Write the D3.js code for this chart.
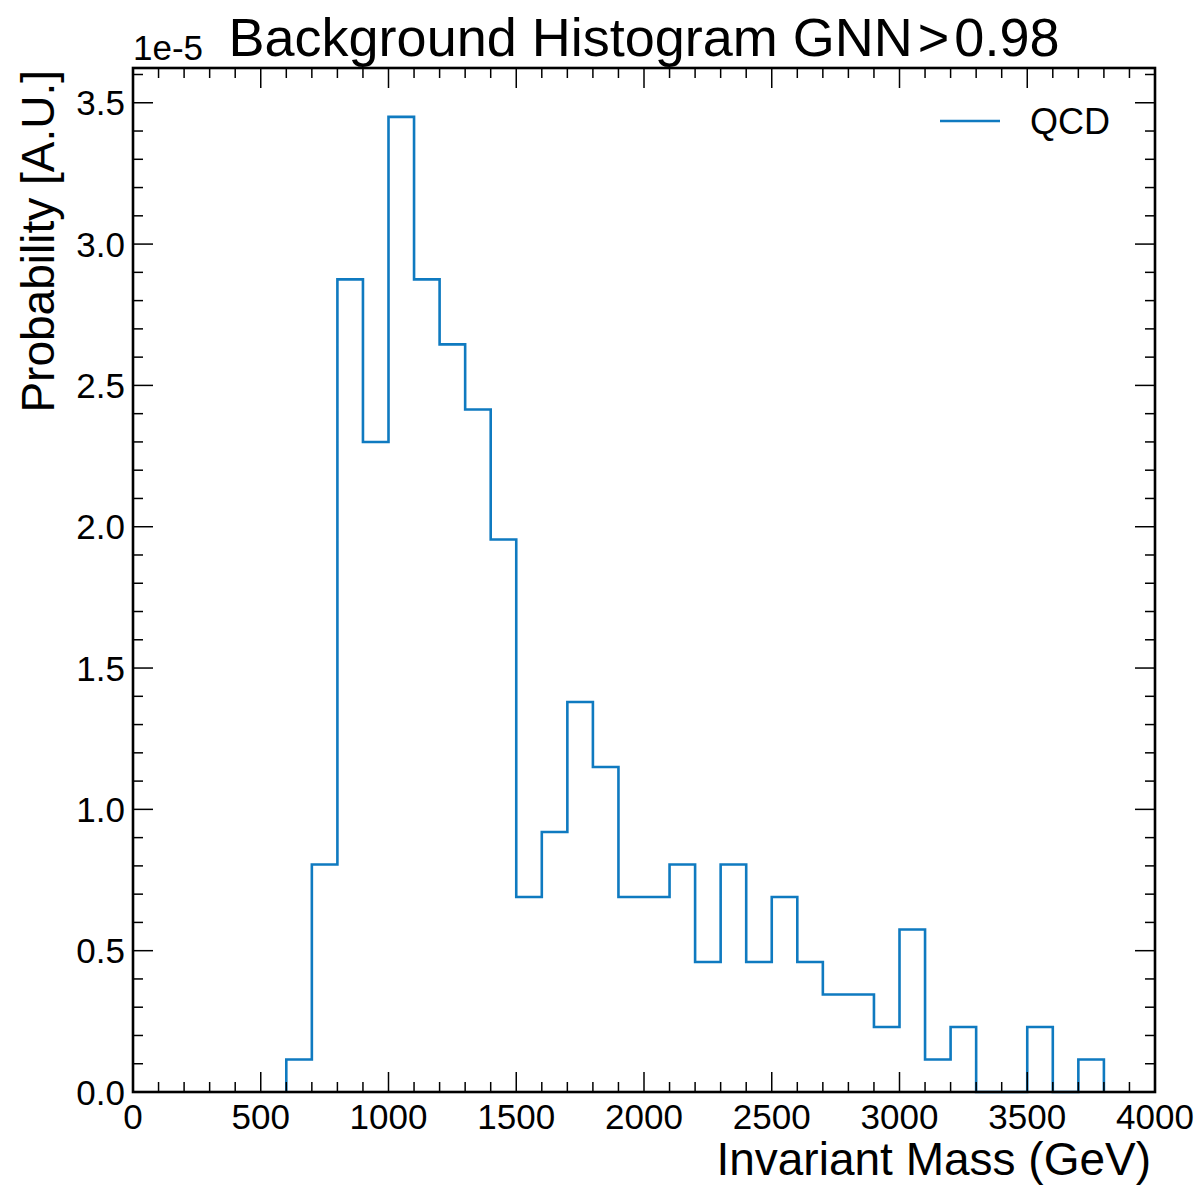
<!DOCTYPE html>
<html>
<head>
<meta charset="utf-8">
<script src="https://cdn.jsdelivr.net/npm/d3@7"></script>
<style>
  html, body { margin: 0; padding: 0; background: #fff; }
  svg text { font-family: "Liberation Sans", Arial, Helvetica, sans-serif; fill: #000; }
</style>
</head>
<body>
<svg id="chart" width="1201" height="1186"></svg>
<script>
// ---- data (values in units of 1e-5) ----
const binWidth = 100;
const binLefts = [0,100,200,300,400,500,600,700,800,900,1000,1100,1200,1300,1400,1500,1600,1700,1800,1900,
                  2000,2100,2200,2300,2400,2500,2600,2700,2800,2900,3000,3100,3200,3300,3400,3500,3600,3700,3800,3900];
const qcdValues = [0,0,0,0,0,0,0.115,0.805,2.875,2.30,3.45,2.875,2.645,2.415,1.955,0.69,0.92,1.38,1.15,0.69,
                   0.69,0.805,0.46,0.805,0.46,0.69,0.46,0.345,0.345,0.23,0.575,0.115,0.23,0,0,0.23,0,0.115,0,0];
const xTicks = [0,500,1000,1500,2000,2500,3000,3500,4000];
const yTicks = [0.0,0.5,1.0,1.5,2.0,2.5,3.0,3.5];
const seriesName = "QCD";
const titleParts = ["Background Histogram GNN", ">", "0.98"];
const xLabel = "Invariant Mass (GeV)";
const yLabel = "Probability [A.U.]";
const offsetText = "1e-5";

// ---- layout ----
const L = 133, R = 1155, T = 68, B = 1092;
const color = "#0f7ac0";
const svg = d3.select("#chart");

const x = d3.scaleLinear().domain([0, 4000]).range([L, R]);
const y = d3.scaleLinear().domain([0, 3.623]).range([B, T]);

// histogram step path
let first = qcdValues.findIndex(v => v > 0);
let last = qcdValues.length - 1 - [...qcdValues].reverse().findIndex(v => v > 0);
const stepPts = [[binLefts[first], 0]];
for (let i = first; i <= last; i++) {
  stepPts.push([binLefts[i], qcdValues[i]]);
  stepPts.push([binLefts[i] + binWidth, qcdValues[i]]);
}
stepPts.push([binLefts[last] + binWidth, 0]);

const line = d3.line().x(d => x(d[0])).y(d => y(d[1]));
svg.append("path")
  .attr("d", line(stepPts))
  .attr("fill", "none")
  .attr("stroke", color)
  .attr("stroke-width", 2.6)
  .attr("stroke-linejoin", "miter");

// ticks (inward on all sides)
const tickG = svg.append("g").attr("stroke", "#000").attr("stroke-width", 1.5);
const xMinor = d3.range(0, 4001, 100).filter(v => v % 500 !== 0);
const yMinor = d3.range(0, 37).map(i => i / 10).filter(v => Math.round(v * 10) % 5 !== 0 && v <= 3.62);
xTicks.forEach(v => {
  tickG.append("line").attr("x1", x(v)).attr("x2", x(v)).attr("y1", B).attr("y2", B - 20);
  tickG.append("line").attr("x1", x(v)).attr("x2", x(v)).attr("y1", T).attr("y2", T + 20);
});
xMinor.forEach(v => {
  tickG.append("line").attr("x1", x(v)).attr("x2", x(v)).attr("y1", B).attr("y2", B - 10);
  tickG.append("line").attr("x1", x(v)).attr("x2", x(v)).attr("y1", T).attr("y2", T + 10);
});
yTicks.forEach(v => {
  tickG.append("line").attr("x1", L).attr("x2", L + 20).attr("y1", y(v)).attr("y2", y(v));
  tickG.append("line").attr("x1", R).attr("x2", R - 20).attr("y1", y(v)).attr("y2", y(v));
});
yMinor.forEach(v => {
  tickG.append("line").attr("x1", L).attr("x2", L + 10).attr("y1", y(v)).attr("y2", y(v));
  tickG.append("line").attr("x1", R).attr("x2", R - 10).attr("y1", y(v)).attr("y2", y(v));
});

// frame
svg.append("rect").attr("x", L).attr("y", T).attr("width", R - L).attr("height", B - T)
  .attr("fill", "none").attr("stroke", "#000").attr("stroke-width", 2.6);

// tick labels
xTicks.forEach(v => {
  svg.append("text").attr("x", x(v)).attr("y", 1129).attr("text-anchor", "middle")
    .attr("font-size", 35).text(v);
});
yTicks.forEach(v => {
  svg.append("text").attr("x", 125).attr("y", y(v) + 12.5).attr("text-anchor", "end")
    .attr("font-size", 35).text(v.toFixed(1));
});

// offset text
svg.append("text").attr("x", 133).attr("y", 60).attr("font-size", 35).text(offsetText);

// title (math-style spacing around the relation sign)
const title = svg.append("text").attr("x", (L + R) / 2).attr("y", 56).attr("text-anchor", "middle")
  .attr("font-size", 54);
title.append("tspan").text(titleParts[0]);
title.append("tspan").attr("dx", 5).text(titleParts[1]);
title.append("tspan").attr("dx", 5).text(titleParts[2]);

// axis labels
svg.append("text").attr("x", R - 4).attr("y", 1175).attr("text-anchor", "end")
  .attr("font-size", 46).text(xLabel);
svg.append("text").attr("transform", `translate(54, ${T + 2}) rotate(-90)`).attr("text-anchor", "end")
  .attr("font-size", 46).text(yLabel);

// legend
svg.append("line").attr("x1", 940).attr("x2", 1000).attr("y1", 121).attr("y2", 121)
  .attr("stroke", color).attr("stroke-width", 2.6);
svg.append("text").attr("x", 1030).attr("y", 134).attr("font-size", 36).text(seriesName);
</script>
</body>
</html>
